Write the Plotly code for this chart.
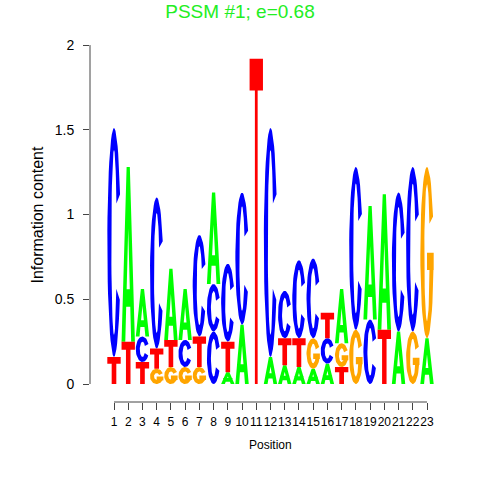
import numpy as np
import plotly.graph_objects as go

# sequence logo data: one stack per position, letters listed bottom to top
positions = list(range(1, 24))
stack_letters = ["TC", "TA", "TCA", "GTC", "GTA", "GCA", "GTC", "CCA", "ATC", "AC",
                 "T", "AC", "ATC", "ATC", "AGC", "ACT", "TGA", "GC", "CA", "TA",
                 "AC", "GC", "AG"]
stack_bits = [
    [0.16, 1.35],
    [0.25, 1.03],
    [0.13, 0.15, 0.28],
    [0.09, 0.12, 0.89],
    [0.10, 0.16, 0.42],
    [0.10, 0.16, 0.30],
    [0.10, 0.18, 0.60],
    [0.31, 0.28, 0.54],
    [0.07, 0.18, 0.46],
    [0.35, 0.78],
    [1.92],
    [0.16, 1.35],
    [0.11, 0.16, 0.28],
    [0.10, 0.17, 0.46],
    [0.09, 0.18, 0.47],
    [0.12, 0.15, 0.15],
    [0.10, 0.14, 0.32],
    [0.32, 0.96],
    [0.38, 0.67],
    [0.32, 0.80],
    [0.31, 0.82],
    [0.31, 0.97],
    [0.27, 1.01],
]
y_ticks = [0, 0.5, 1, 1.5, 2]
y_ticktext = ["0", "0.5", "1", "1.5", "2"]

colors = {"A": "#00ff00", "C": "#0000ff", "G": "#ffa500", "T": "#ff0000"}
LETTER_W = 0.94


def stroke(h):
    # letter stroke weight (in bits) grows slower than the letter height
    return 0.0833 * h + 0.0175


def ring(a0, a1, rxi, ryi, n=48):
    th = np.radians(np.linspace(a0, a1, n))
    outer = [(0.5 + 0.5 * np.cos(a), 0.5 + 0.5 * np.sin(a)) for a in th]
    inner = [(0.5 + rxi * np.cos(a), 0.5 + ryi * np.sin(a)) for a in th[::-1]]
    return outer + inner


def glyph(letter, h):
    '''Outline polygons of a letter in a unit box.'''
    t = min(stroke(h) / h, 0.3)
    if letter == "T":
        b = min((stroke(h) + 0.01) / h, 0.3)
        s = 0.36 - 0.08 * h
        return [[(0, 1), (1, 1), (1, 1 - b), (0.5 + s / 2, 1 - b), (0.5 + s / 2, 0),
                 (0.5 - s / 2, 0), (0.5 - s / 2, 1 - b), (0, 1 - b)]]
    if letter == "A":
        cb = max(t, 0.1)
        return [[(0, 0), (0.28, 0), (0.62, 1), (0.38, 1)],
                [(0.72, 0), (1, 0), (0.62, 1), (0.38, 1)],
                [(0.15, 0.2), (0.85, 0.2), (0.85, 0.2 + cb), (0.15, 0.2 + cb)]]
    if letter == "C":
        return [ring(25, 330, 0.2, 0.5 - t)]
    if letter == "G":
        return [ring(25, 360, 0.2, 0.5 - t),
                [(0.5, 0.5 - t), (1, 0.5 - t), (1, 0.5), (0.5, 0.5)]]
    return []


xs = {k: [] for k in colors}
ys = {k: [] for k in colors}
for p, letters, bits in zip(positions, stack_letters, stack_bits):
    base = 0.0
    for letter, h in zip(letters, bits):
        for poly in glyph(letter, h):
            for u, v in poly:
                xs[letter].append(p - LETTER_W / 2 + u * LETTER_W)
                ys[letter].append(base + v * h)
            xs[letter].append(None)
            ys[letter].append(None)
        base += h

fig = go.Figure()
for letter, col in colors.items():
    fig.add_trace(go.Scatter(x=xs[letter], y=ys[letter], mode="lines", fill="toself",
                             fillcolor=col, line=dict(width=0, color=col),
                             hoverinfo="skip", showlegend=False))

px_per_pos = (427 - 114) / 22
fig.update_xaxes(range=[1 - 24 / px_per_pos, 1 + 334 / px_per_pos],
                 tickvals=positions, ticktext=[str(p) for p in positions],
                 tickangle=0, automargin=False, ticklabelstandoff=2,
                 ticks="outside", ticklen=7, tickcolor="#444",
                 showgrid=False, zeroline=False, showline=False,
                 tickfont=dict(size=12, color="black"))
fig.update_yaxes(range=[-18 / 169.5, 2.0005], tickvals=y_ticks, ticktext=y_ticktext,
                 automargin=False, ticklabelstandoff=6,
                 ticks="outside", ticklen=6, tickcolor="#444",
                 showgrid=False, zeroline=False, showline=False,
                 tickfont=dict(size=14, color="black"))

# R style axis lines that only span the data
fig.add_shape(type="line", xref="paper", yref="y", x0=0, x1=0, y0=0, y1=2,
              line=dict(color="#444", width=1))
fig.add_shape(type="line", xref="x", yref="paper", x0=1, x1=23, y0=0, y1=0,
              line=dict(color="#444", width=1))

fig.add_annotation(text="Position", xref="x", yref="paper", x=12, y=0,
                   yshift=-43, yanchor="middle", showarrow=False,
                   font=dict(size=12, color="black"))
fig.add_annotation(text="Information content", xref="paper", yref="y", x=0, y=1,
                   xshift=-52, xanchor="center", textangle=-90, showarrow=False,
                   font=dict(size=16, color="black"))

fig.update_layout(
    width=480, height=480,
    margin=dict(l=90, r=32, t=45, b=78),
    title=dict(text="PSSM #1; e=0.68", x=0.5, xanchor="center", y=1 - 11 / 480,
               yanchor="middle", font=dict(size=19, color="#22ee22")),
    font=dict(family="Liberation Sans, Arial, sans-serif"),
    paper_bgcolor="white", plot_bgcolor="white",
)

# drop the page's default body margin so the figure sits at the window corner
fig.write_html("out.html", config={"displayModeBar": False},
               post_script="document.body.style.margin = '0px';")
